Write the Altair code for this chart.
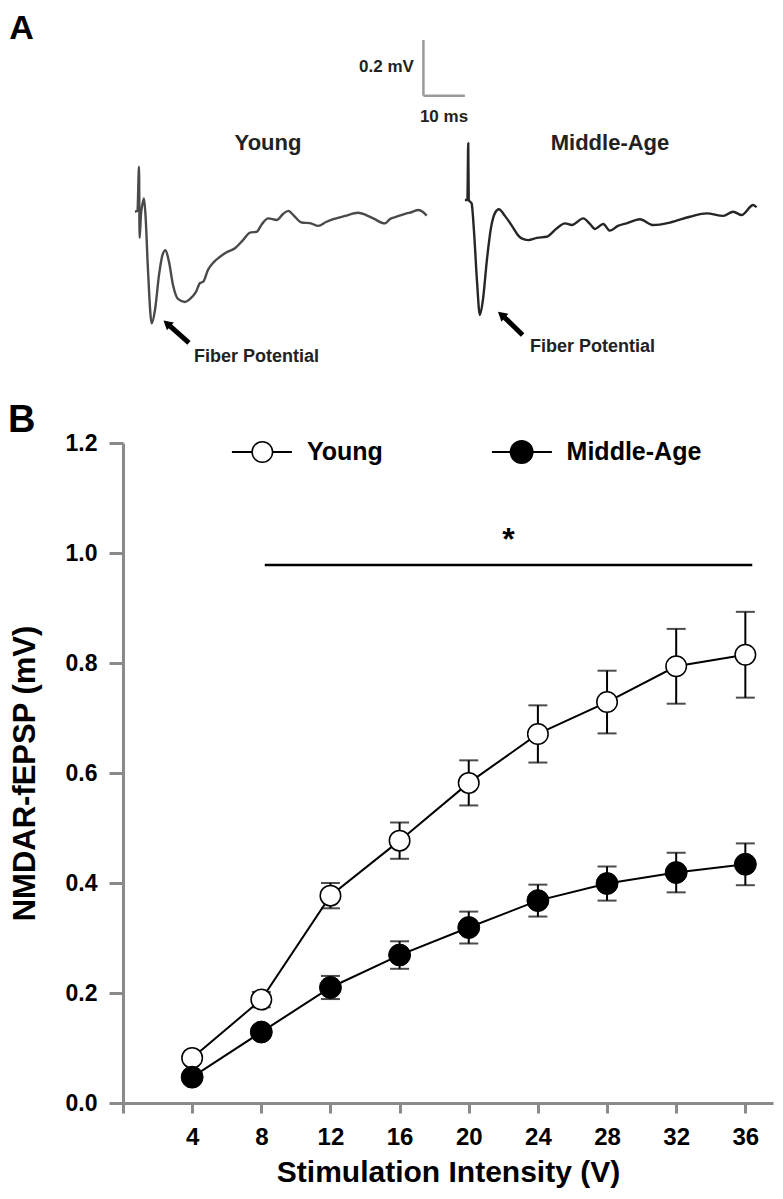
import altair as alt
import pandas as pd

# ---------------- Panel B data ----------------
intensity = [4, 8, 12, 16, 20, 24, 28, 32, 36]
young_mean = [0.082, 0.188, 0.377, 0.477, 0.582, 0.671, 0.729, 0.794, 0.815]
young_sem = [0.006, 0.014, 0.023, 0.033, 0.041, 0.052, 0.057, 0.068, 0.078]
middle_mean = [0.047, 0.129, 0.210, 0.269, 0.319, 0.368, 0.399, 0.419, 0.434]
middle_sem = [0.006, 0.010, 0.021, 0.025, 0.029, 0.029, 0.031, 0.036, 0.038]
x_ticks = [0, 4, 8, 12, 16, 20, 24, 28, 32, 36]
y_ticks = [0.0, 0.2, 0.4, 0.6, 0.8, 1.0, 1.2]

# ---------------- Panel A data (example traces) ----------------
# time since trace start (ms), voltage relative to trace baseline (mV)
young_t = [0.0, 0.6, 0.97, 1.11, 1.45, 1.81, 2.17, 2.53, 3.13, 4.03, 4.82, 5.79, 6.63, 7.35,
           8.20, 9.16, 10.36, 12.05, 13.26, 14.70, 15.67, 16.46, 17.59, 18.80, 20.48, 22.17,
           24.10, 26.03, 27.71, 29.33, 30.60, 32.12, 34.15, 35.67, 36.94, 38.32, 40.17, 42.17,
           44.17, 46.03, 47.79, 50.60, 53.81, 55.67, 57.42, 60.24, 61.45, 63.06, 65.06, 66.75,
           68.27, 69.40, 70.29]
young_v = [0.000, 0.003, 0.162, -0.094, -0.008, 0.028, 0.048, -0.012, -0.209, -0.401, -0.353,
           -0.227, -0.155, -0.138, -0.181, -0.263, -0.313, -0.324, -0.313, -0.288, -0.256,
           -0.251, -0.209, -0.184, -0.162, -0.145, -0.131, -0.102, -0.075, -0.072, -0.044,
           -0.024, -0.030, -0.008, 0.003, -0.015, -0.039, -0.041, -0.051, -0.037, -0.027,
           -0.015, -0.004, -0.012, -0.024, -0.042, -0.026, -0.018, -0.008, -0.001, 0.006,
           -0.001, -0.014]
middle_t = [0.00, 0.60, 0.80, 0.92, 1.61, 2.17, 2.89, 3.61, 4.34, 5.30, 6.27, 7.23, 8.19, 9.64,
            11.33, 12.77, 13.66, 15.25, 17.35, 19.69, 22.10, 24.10, 25.78, 28.51, 30.12, 31.33,
            33.33, 34.94, 36.87, 38.96, 42.17, 45.37, 49.40, 54.22, 58.24, 62.24, 64.65, 66.68,
            69.47, 70.29]
middle_v = [0.000, 0.000, 0.204, 0.000, -0.012, -0.108, -0.287, -0.413, -0.359, -0.215, -0.101,
            -0.047, -0.033, -0.057, -0.093, -0.126, -0.138, -0.144, -0.136, -0.132, -0.102,
            -0.084, -0.090, -0.066, -0.086, -0.104, -0.086, -0.110, -0.093, -0.084, -0.069,
            -0.090, -0.081, -0.060, -0.048, -0.057, -0.042, -0.054, -0.018, -0.026]

FONT = "Liberation Sans"
AXIS_GRAY = "#8a8a8a"

# ---------------- Panel B ----------------
xB = alt.Scale(domain=[0, 37.6], nice=False, zero=False)
yB = alt.Scale(domain=[0, 1.2], nice=False, zero=False)
x_axis = alt.Axis(values=x_ticks, labelExpr="datum.value == 0 ? '' : datum.label",
                  title="Stimulation Intensity (V)", orient="bottom", grid=False,
                  labelFontSize=24, labelFontWeight="bold", labelFont=FONT, labelColor="black",
                  labelPadding=12, tickSize=10, tickWidth=3, tickColor=AXIS_GRAY,
                  domainColor=AXIS_GRAY, domainWidth=3, titleFont=FONT, titleFontSize=30,
                  titleFontWeight="bold", titleColor="black", titlePadding=8)
y_axis = alt.Axis(values=y_ticks, format=".1f", title="NMDAR-fEPSP (mV)", orient="left",
                  grid=False, labelFontSize=23, labelFontWeight="bold", labelFont=FONT,
                  labelColor="black", labelPadding=12, tickSize=14, tickWidth=3,
                  tickColor=AXIS_GRAY, domainColor=AXIS_GRAY, domainWidth=3, titleFont=FONT,
                  titleFontSize=31, titleFontWeight="bold", titleColor="black", titlePadding=24)


def XB(field):
    return alt.X(field, type="quantitative", scale=xB, axis=x_axis)


def YB(field):
    return alt.Y(field, type="quantitative", scale=yB, axis=y_axis)


rows = []
for g, means, sems in [("Young", young_mean, young_sem), ("Middle-Age", middle_mean, middle_sem)]:
    for xi, m, s in zip(intensity, means, sems):
        rows.append({"group": g, "x": xi, "mean": m, "lo": m - s, "hi": m + s})
dfB = pd.DataFrame(rows)

lines = alt.Chart(dfB).mark_line(color="black", strokeWidth=2).encode(
    x=XB("x"), y=YB("mean"), detail="group:N")
err = alt.Chart(dfB).mark_rule(color="black", strokeWidth=2).encode(
    x=XB("x"), y=YB("lo"), y2="hi")
caps = alt.Chart(dfB).transform_fold(["lo", "hi"], as_=["end", "val"]).mark_tick(
    color="black", thickness=2, size=19, orient="horizontal").encode(x=XB("x"), y=YB("val"))
pts_y = alt.Chart(dfB).transform_filter("datum.group == 'Young'").mark_point(
    shape="circle", filled=True, fill="white", stroke="black", strokeWidth=1.5, size=420,
    opacity=1).encode(x=XB("x"), y=YB("mean"))
pts_m = alt.Chart(dfB).transform_filter("datum.group == 'Middle-Age'").mark_point(
    shape="circle", filled=True, fill="black", stroke="black", strokeWidth=1, size=480,
    opacity=1).encode(x=XB("x"), y=YB("mean"))

# legend (drawn in data units of panel B)
leg = pd.DataFrame({
    "group": ["Young", "Middle-Age"],
    "x0": [6.3, 21.34], "x1": [9.77, 24.81], "xm": [8.06, 23.06], "xt": [10.64, 25.66],
    "y": [1.1836, 1.1836],
})
leg_line = alt.Chart(leg).mark_rule(color="black", strokeWidth=2).encode(
    x=XB("x0"), x2="x1", y=YB("y"))
leg_y = alt.Chart(leg).transform_filter("datum.group == 'Young'").mark_point(
    shape="circle", filled=True, fill="white", stroke="black", strokeWidth=1.5, size=420,
    opacity=1).encode(x=XB("xm"), y=YB("y"))
leg_m = alt.Chart(leg).transform_filter("datum.group == 'Middle-Age'").mark_point(
    shape="circle", filled=True, fill="black", stroke="black", size=480,
    opacity=1).encode(x=XB("xm"), y=YB("y"))
leg_txt = alt.Chart(leg).mark_text(font=FONT, fontSize=25, fontWeight="bold", align="left",
                                   baseline="middle", color="black").encode(
    x=XB("xt"), y=YB("y"), text="group:N")

sig = pd.DataFrame({"x0": [8.2], "x1": [36.4], "y": [0.978], "xs": [22.3], "ys": [1.005],
                    "star": ["*"]})
sig_line = alt.Chart(sig).mark_rule(color="black", strokeWidth=2.5).encode(
    x=XB("x0"), x2="x1", y=YB("y"))
sig_star = alt.Chart(sig).mark_text(font=FONT, fontSize=32, fontWeight="bold",
                                    baseline="alphabetic", align="center", color="black").encode(
    x=XB("xs"), y=YB("ys"), text="star:N")

labB = pd.DataFrame({"x": [-6.65], "y": [1.22], "t": ["B"]})
b_label = alt.Chart(labB).mark_text(font=FONT, fontSize=38, fontWeight="bold", align="left",
                                    baseline="alphabetic", color="black").encode(
    x=XB("x"), y=YB("y"), text="t:N")

panelB = alt.layer(lines, err, caps, pts_y, pts_m, sig_line, sig_star,
                   leg_line, leg_y, leg_m, leg_txt, b_label)

# ---------------- Panel A ----------------
VIEW_LEFT, VIEW_TOP = 123, 443          # page position of panel B plot area
PX_PER_MS, PX_PER_MV = 4.15, 278.5
A_T0, A_BASE_Y = 8, 211.7               # page x of t=0, page y of v=0
xA = alt.Scale(domain=[0, 185], nice=False, zero=False,
               range=[A_T0 - VIEW_LEFT, A_T0 - VIEW_LEFT + 185 * PX_PER_MS])
yA = alt.Scale(domain=[-0.6, 0.8], nice=False, zero=False,
               range=[A_BASE_Y + 0.6 * PX_PER_MV - VIEW_TOP, A_BASE_Y - 0.8 * PX_PER_MV - VIEW_TOP])


def XA(field):
    return alt.X(field, type="quantitative", scale=xA, axis=None)


def YA(field):
    return alt.Y(field, type="quantitative", scale=yA, axis=None)


young_df = pd.DataFrame({"t": [t + 30.6 for t in young_t], "v": young_v})
middle_df = pd.DataFrame({"t": [t + 110.1 for t in middle_t], "v": [v + 0.042 for v in middle_v]})

tr_y = alt.Chart(young_df).mark_line(color="#4a4a4a", strokeWidth=2.4, strokeJoin="round",
                                     interpolate="monotone").encode(
    x=XA("t"), y=YA("v"), order="t:Q")
tr_m = alt.Chart(middle_df).mark_line(color="#262626", strokeWidth=2.4, strokeJoin="round",
                                      interpolate="monotone").encode(
    x=XA("t"), y=YA("v"), order="t:Q")

bar = pd.DataFrame({"t0": [100.1, 100.1], "t1": [100.1, 110.1], "v0": [0.4165, 0.4165],
                    "v1": [0.6165, 0.4165]})
scale_bar = alt.Chart(bar).mark_rule(color="#9a9a9a", strokeWidth=2.5).encode(
    x=XA("t0"), x2="t1", y=YA("v0"), y2="v1")

titlesA = pd.DataFrame({"t": [62.65, 145.06], "v": [0.247, 0.247], "label": ["Young", "Middle-Age"]})
titlesA_txt = alt.Chart(titlesA).mark_text(font=FONT, fontSize=22, fontWeight="bold",
                                           align="center", baseline="middle", color="#222").encode(
    x=XA("t"), y=YA("v"), text="label:N")

mv_txt = alt.Chart(pd.DataFrame({"t": [97.8], "v": [0.519], "label": ["0.2 mV"]})).mark_text(
    font=FONT, fontSize=17, fontWeight="bold", align="right", baseline="middle",
    color="#222").encode(x=XA("t"), y=YA("v"), text="label:N")
ms_txt = alt.Chart(pd.DataFrame({"t": [105.06], "v": [0.340], "label": ["10 ms"]})).mark_text(
    font=FONT, fontSize=17, fontWeight="bold", align="center", baseline="middle",
    color="#222").encode(x=XA("t"), y=YA("v"), text="label:N")

fib = pd.DataFrame({"t": [44.8, 125.8], "v": [-0.522, -0.486],
                    "label": ["Fiber Potential", "Fiber Potential"]})
fib_txt = alt.Chart(fib).mark_text(font=FONT, fontSize=18, fontWeight="bold", align="left",
                                   baseline="middle", color="#222").encode(
    x=XA("t"), y=YA("v"), text="label:N")

arrows = pd.DataFrame({"t0": [43.6, 124.0], "v0": [-0.471, -0.443],
                       "t1": [39.0, 119.6], "v1": [-0.410, -0.379],
                       "tt": [38.3, 118.9], "vt": [-0.401, -0.370]})
arr_shaft = alt.Chart(arrows).mark_rule(color="black", strokeWidth=5).encode(
    x=XA("t0"), x2="t1", y=YA("v0"), y2="v1")
arr_head = alt.Chart(arrows).mark_point(shape="triangle-up", filled=True, color="black",
                                        size=110, angle=311, opacity=1).encode(
    x=XA("tt"), y=YA("vt"))

a_label = alt.Chart(pd.DataFrame({"t": [0.3], "v": [0.62], "label": ["A"]})).mark_text(
    font=FONT, fontSize=34, fontWeight="bold", align="left", baseline="alphabetic",
    color="black").encode(x=XA("t"), y=YA("v"), text="label:N")

panelA = alt.layer(tr_y, tr_m, scale_bar, titlesA_txt, mv_txt, ms_txt, fib_txt,
                   arr_shaft, arr_head, a_label)

chart = alt.layer(panelB, panelA).resolve_scale(x="independent", y="independent").properties(
    width=650, height=660,
    autosize=alt.AutoSizeParams(type="none"),
    padding={"left": 115, "top": 435, "right": 2, "bottom": 88},
    background="white",
).configure_view(stroke=None)

chart.save("out.html", embed_options={"renderer": "svg", "actions": False})
